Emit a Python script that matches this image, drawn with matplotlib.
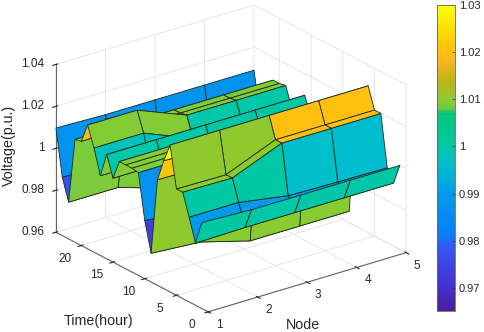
import numpy as np
import matplotlib
matplotlib.use("Agg")
import matplotlib.pyplot as plt
from matplotlib.colors import LinearSegmentedColormap, Normalize
from matplotlib.cm import ScalarMappable

plt.rcParams['font.family'] = ['Liberation Sans', 'DejaVu Sans']

nodes = [1, 2, 3, 4, 5]
hours = list(range(1, 25))
v_node1 = [1.001, .9896, 1.0004, 1.0107, 1.0107, 1.03, 1.021, 1.0103, .9737, .9878, 1.009, 1.0095,
           1.0095, 1.0095, 1.0, 1.0097, .998, 1.0097, 1.019, 1.0097, 1.009, .9775, .9878, 1.0097]
v_node2 = [1.0, .99, 1.0004, 1.0104, 1.0104, 1.03, 1.02, 1.01, .972, .985, 1.009, 1.0095,
           1.0095, 1.0095, 1.0, 1.0097, .998, 1.0097, 1.019, 1.0097, 1.009, .9775, .9878, 1.009]
v_node3 = [1.0, .99, .9965, 1.02, 1.02, 1.03, 1.02, 1.01, .9655, .98, 1.0, 1.0095,
           1.0095, 1.0095, 1.0, 1.0097, .998, 1.0, 1.0096, 1.009, 1.009, .97, .9878, 1.009]
v_node4 = [1.0, .99, .996, 1.02, 1.02, 1.03, 1.02, 1.01, .9655, .98, 1.0, 1.0095,
           1.0095, 1.0095, 1.0, 1.0097, .998, 1.0, 1.0096, 1.009, 1.009, .97, .9878, 1.009]
v_node5 = [1.0, .99, .9957, 1.02, 1.02, 1.03, 1.02, 1.01, .9655, .98, 1.0, 1.0095,
           1.0095, 1.0095, 1.0, 1.0097, .998, 1.0, 1.0096, 1.009, 1.009, .97, .9878, 1.009]
node_ticks = [1, 2, 3, 4, 5]
time_ticks = [0, 5, 10, 15, 20]
volt_ticks = [0.96, 0.98, 1.0, 1.02, 1.04]
volt_labels = ['0.96', '0.98', '1', '1.02', '1.04']
cbar_ticks = [0.97, 0.98, 0.99, 1.0, 1.01, 1.02, 1.03]
cbar_labels = ['0.97', '0.98', '0.99', '1', '1.01', '1.02', '1.03']

anchors = [(0.00, (70, 30, 160)), (0.085, (70, 50, 210)), (0.215, (50, 90, 245)), (0.24, (10, 125, 250)),
           (0.386, (0, 155, 235)), (0.477, (0, 190, 205)), (0.54, (0, 200, 165)), (0.65, (0, 200, 120)),
           (0.66, (110, 200, 70)), (0.69, (135, 205, 50)), (0.755, (190, 180, 20)), (0.82, (255, 180, 30)),
           (0.886, (255, 205, 0)), (1.00, (255, 255, 0))]
parula = LinearSegmentedColormap.from_list(
    'parula', [(p, tuple(c / 255 for c in rgb)) for p, rgb in anchors], N=128)
norm = Normalize(0.9651, 1.03)

W, H = 484, 332
fig = plt.figure(figsize=(W / 100, H / 100), dpi=100)
ax = fig.add_axes([-15.4 / W, 3 / H, 1, 1], projection='3d')
ax.set_proj_type('ortho')
ax.view_init(elev=23.3, azim=-127.1)
ax.set_box_aspect((250, 254, 184), zoom=1.165)

X, Y = np.meshgrid(nodes, hours)
Z = np.array([v_node1, v_node2, v_node3, v_node4, v_node5]).T
surf = ax.plot_surface(X, Y, Z, rstride=1, cstride=1, facecolors=parula(norm(Z)), shade=False,
                       antialiased=True, linewidth=0.6)
surf.set_edgecolor('#1c2a1c')
surf.set_clip_on(False)

ax.set_xlim(1, 5); ax.set_ylim(0, 24); ax.set_zlim(0.96, 1.04)
ax.set_xticks(node_ticks); ax.set_yticks(time_ticks); ax.set_zticks(volt_ticks)
ax.set_zticklabels(volt_labels)
for a in (ax.xaxis, ax.yaxis, ax.zaxis):
    a.set_pane_color((1, 1, 1, 0))
    a.pane.set_edgecolor('#e6e6e6')
    a.line.set_color('#666666')
    a._axinfo['grid'].update(color='#e6e6e6', linewidth=0.7)
    a._axinfo['tick'].update(color='#666666')
ax.tick_params(labelsize=8.5, colors='#262626')
ax.tick_params(axis='x', pad=-4)
ax.tick_params(axis='y', pad=-4)
ax.tick_params(axis='z', pad=0)


def nudge(label, dx, dy):
    """Shift a 3D tick label by whole pixels each time the axis places it."""
    place = label.set_position

    def shifted(xy):
        p = ax.transData.transform(xy) + (dx, dy)
        place(ax.transData.inverted().transform(p))

    label.set_position = shifted


for axis, dx, dy, ha in ((ax.xaxis, 6, 1, 'center'), (ax.yaxis, -10, 0, 'center'), (ax.zaxis, 11, 5, 'right')):
    for tick in axis.get_major_ticks():
        nudge(tick.label1, dx, dy)
        tick.label1.set_ha(ha)

fig.text(98 / W, 1 - 321 / H, 'Time(hour)', ha='center', va='center', fontsize=10.3, color='#262626')
fig.text(303 / W, 1 - 325 / H, 'Node', ha='center', va='center', fontsize=10.3, color='#262626')
fig.text(9 / W, 1 - 145 / H, 'Voltage(p.u.)', ha='center', va='center', rotation=90, fontsize=10.3, color='#262626')

cax = fig.add_axes([437 / W, 1 - 311 / H, 17.5 / W, 306 / H])
cb = fig.colorbar(ScalarMappable(norm, parula), cax=cax)
cb.set_ticks(cbar_ticks); cb.set_ticklabels(cbar_labels)
cb.ax.tick_params(labelsize=8, length=2, width=0.5, color='#333333', labelcolor='#262626', pad=3, direction='in')
cb.outline.set_linewidth(0.6)
cb.outline.set_edgecolor('#666666')

fig.savefig('out.png', dpi=100)
